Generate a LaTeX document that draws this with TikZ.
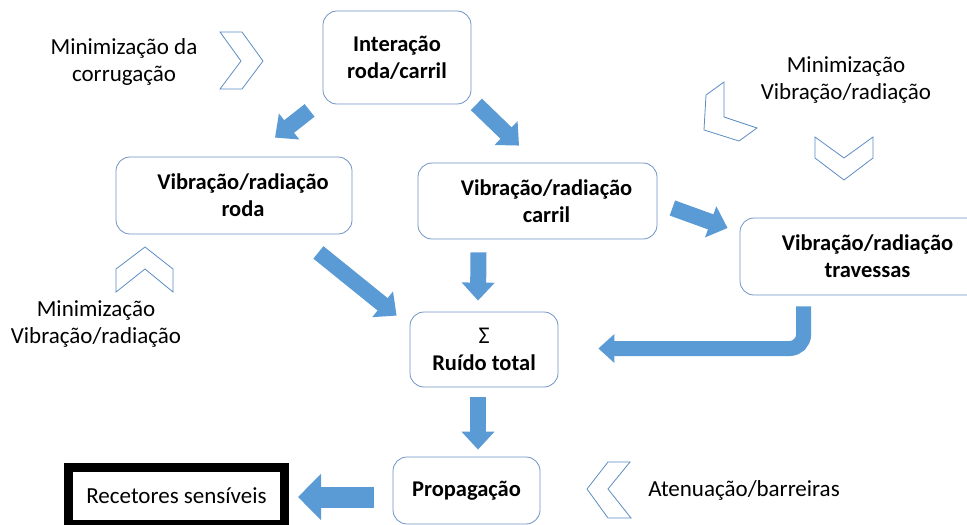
\documentclass[tikz,border=0pt]{standalone}
\usepackage{fontspec}
\setmainfont{Carlito}
\definecolor{boxline}{HTML}{6F93C6}
\definecolor{flowblue}{HTML}{5B9BD5}
\definecolor{chevline}{HTML}{5E8CC4}
\usetikzlibrary{arrows.meta,calc}

\begin{document}
\begin{tikzpicture}[x=1pt,y=-1pt,font=\fontsize{23}{27}\selectfont,
  stage/.style={draw=boxline,line width=0.8pt,rounded corners=14pt,fill=white,align=center,inner sep=0pt,font=\fontsize{22.5}{27}\selectfont\bfseries},
  flow/.style={draw=flowblue,line width=16pt,-{Triangle[width=32pt,length=18pt]}},
  bigflow/.style={draw=flowblue,line width=21pt,-{Triangle[width=45pt,length=23pt]}},
  chev/.style={draw=chevline,line width=0.8pt,fill=white},
  note/.style={align=center}]
\useasboundingbox (0,0) rectangle (967,525);
% the stages
\node[stage,minimum width=148pt,minimum height=93pt] (inter) at (397,57.5) {Interação\\roda/carril};
\node[stage,minimum width=236pt,minimum height=77pt] (vroda) at (234,195.5) {\hspace*{18pt}Vibração/radiação\\\hspace*{18pt}roda};
\node[stage,minimum width=239pt,minimum height=76pt] (vcarril) at (537.5,201) {\hspace*{18pt}Vibração/radiação\\\hspace*{18pt}carril};
\node[stage,minimum width=255pt,minimum height=77pt] (vtrav) at (867.5,256.5) {Vibração/radiação\\travessas};
\node[stage,minimum width=148pt,minimum height=75pt] (total) at (484,349.5) {{\mdseries\fontsize{24}{27}\selectfont Σ}\\Ruído total};
\node[stage,minimum width=147pt,minimum height=67pt] (prop) at (466.5,490.5) {Propagação};
\node[draw=black,line width=9pt,minimum width=216pt,minimum height=57pt,inner sep=0pt] (recet) at (176.5,496) {Recetores sensíveis};
% block arrows between the stages
\draw[flow] ($(inter.south west)+(-13,6)$) -- ($(vroda.north)+(41,-19)$);
\draw[flow] ($(inter.south east)+(5,0)$) -- ($(vcarril.north)+(-18.5,-17)$);
\draw[flow] ($(vroda.south east)+(-34,18)$) -- ($(total.north west)+(-13,4)$);
\draw[flow] ($(vcarril.south)+(-59,13)$) -- ($(total.north)+(-6,-11)$);
\draw[flow] ($(vcarril.east)+(15,7)$) -- ($(vtrav.west)+(-12,-28.5)$);
\draw[flow,line width=15pt,-{Triangle[width=28pt,length=16pt]},rounded corners=14pt] ($(vtrav.south west)+(64,11)$) |- ($(total.east)+(40,-1)$);
\draw[flow] ($(total.south)+(-6,10)$) -- ($(prop.north)+(11.5,-7)$);
\draw[bigflow] ($(prop.west)+(-19,6.5)$) -- ($(recet.east)+(9,1)$);
% measures and their chevrons
\node[note] (mcorr) at (124,62) {Minimização da\\corrugação};
\draw[chev] (220,32) -- (242,32) -- (263,61) -- (242,89) -- (220,89) -- (241,61) -- cycle;
\node[note] (mroda) at (96,324) {Minimização\\Vibração/radiação};
\draw[chev] (116,269) -- (145,247) -- (173,269) -- (173,292) -- (145,269) -- (116,292) -- cycle;
\node[note] (mtrav) at (846,80) {Minimização\\Vibração/radiação};
\draw[chev] (706,95) -- (724,82) -- (724,117) -- (757,128) -- (739,141) -- (704,130) -- cycle;
\draw[chev] (815,137) -- (844,158) -- (873,137) -- (873,158) -- (844,180) -- (815,158) -- cycle;
\node[note] (aten) at (744,490) {Atenuação/barreiras};
\draw[chev] (608,462) -- (630,462) -- (608,489) -- (631,518) -- (608,518) -- (587,489) -- cycle;
\end{tikzpicture}
\end{document}
